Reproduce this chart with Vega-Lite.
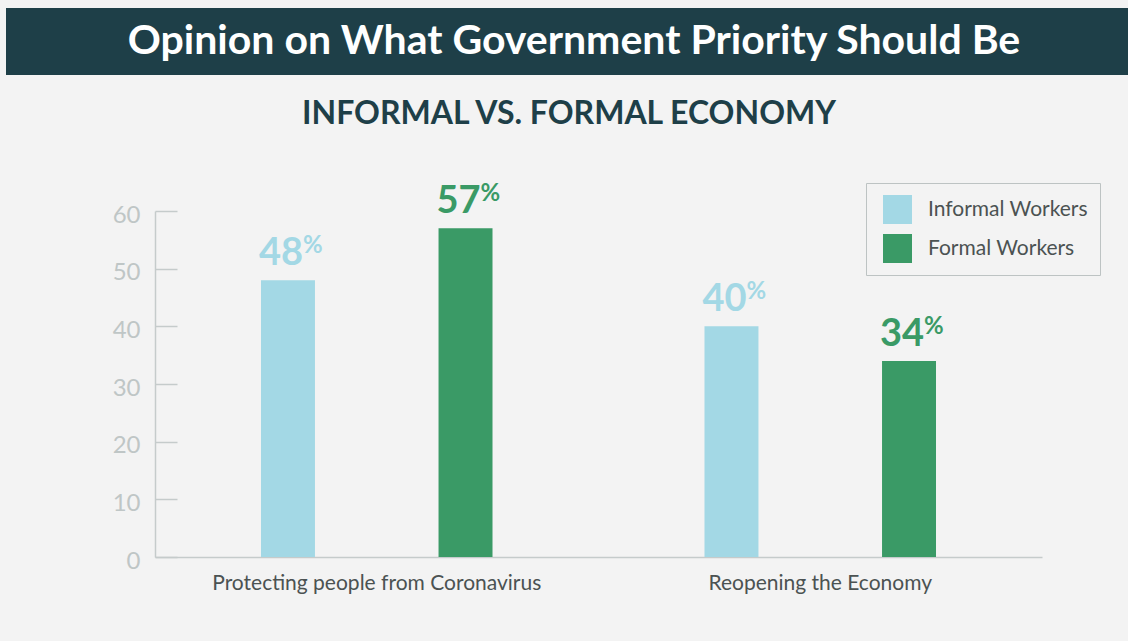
{
  "$schema": "https://vega.github.io/schema/vega-lite/v6.json",
  "background": "#f3f3f3",
  "padding": {"left": 6, "top": 8, "right": 0, "bottom": 49},
  "config": {"view": {"stroke": null}, "font": "Lato"},
  "spacing": 23,
  "vconcat": [
    {
      "width": 1122,
      "height": 67,
      "view": {"fill": "#1e3f48", "stroke": null},
      "data": {"values": [{"title": "Opinion on What Government Priority Should Be"}]},
      "mark": {"type": "text", "font": "Lato", "fontWeight": "bold", "fontSize": 41, "color": "#ffffff", "dx": 7},
      "encoding": {"text": {"field": "title", "type": "nominal"}}
    },
    {
      "width": 1122,
      "height": 346,
      "title": {
        "text": "INFORMAL VS. FORMAL ECONOMY",
        "font": "Lato",
        "fontSize": 32,
        "fontWeight": "bold",
        "color": "#1e3f48",
        "anchor": "middle",
        "dx": 2,
        "offset": 51
      },
      "data": {
        "values": [
          {"priority": "Protecting people from Coronavirus", "group": "Informal Workers", "value": 48},
          {"priority": "Protecting people from Coronavirus", "group": "Formal Workers", "value": 57},
          {"priority": "Reopening the Economy", "group": "Informal Workers", "value": 40},
          {"priority": "Reopening the Economy", "group": "Formal Workers", "value": 34}
        ]
      },
      "encoding": {
        "x": {
          "field": "priority",
          "type": "nominal",
          "sort": ["Protecting people from Coronavirus", "Reopening the Economy"],
          "scale": {"paddingInner": 0, "paddingOuter": 0, "range": [149, 1036]},
          "axis": {
            "title": null,
            "labelAngle": 0,
            "ticks": false,
            "domainColor": "#c5cbcb",
            "domainWidth": 1.5,
            "labelFont": "Lato",
            "labelFontSize": 21,
            "labelColor": "#4b5252",
            "labelPadding": 15,
            "labelLimit": 0
          }
        },
        "xOffset": {
          "field": "group",
          "type": "nominal",
          "sort": ["Informal Workers", "Formal Workers"],
          "scale": {"paddingInner": 0.696, "paddingOuter": 0.597}
        },
        "y": {
          "field": "value",
          "type": "quantitative",
          "scale": {"domain": [0, 60], "nice": false},
          "axis": {
            "title": null,
            "grid": false,
            "offset": -149,
            "values": [0, 10, 20, 30, 40, 50, 60],
            "domainColor": "#c5cbcb",
            "domainWidth": 1.5,
            "tickColor": "#c5cbcb",
            "tickWidth": 1.5,
            "tickSize": -22,
            "labelFont": "Lato",
            "labelFontWeight": "normal",
            "labelFontSize": 24,
            "labelColor": "#bfc6c6",
            "labelPadding": 37,
            "labelOffset": 4
          }
        },
        "color": {
          "field": "group",
          "type": "nominal",
          "sort": ["Informal Workers", "Formal Workers"],
          "scale": {"domain": ["Informal Workers", "Formal Workers"], "range": ["#a3d8e5", "#3a9a66"]},
          "legend": {
            "title": null,
            "orient": "none",
            "legendX": 860,
            "legendY": 175,
            "strokeColor": "#bdc3c3",
            "fillColor": "#f3f3f3",
            "padding": 12,
            "symbolType": "square",
            "symbolSize": 841,
            "symbolStrokeWidth": 0,
            "symbolOpacity": 1,
            "symbolOffset": 5,
            "labelFont": "Lato",
            "labelFontSize": 21,
            "labelColor": "#4b5252",
            "labelOffset": 16,
            "rowPadding": 10
          }
        }
      },
      "layer": [
        {"mark": {"type": "bar", "opacity": 1}},
        {
          "mark": {"type": "text", "align": "right", "baseline": "alphabetic", "dx": 15, "dy": -15, "font": "Lato", "fontSize": 38, "fontWeight": "bold"},
          "encoding": {"text": {"field": "value", "type": "quantitative"}}
        },
        {
          "mark": {"type": "text", "align": "left", "baseline": "alphabetic", "dx": 15, "dy": -27, "font": "Lato", "fontSize": 24, "fontWeight": "bold"},
          "encoding": {"text": {"value": "%"}}
        }
      ]
    }
  ]
}
